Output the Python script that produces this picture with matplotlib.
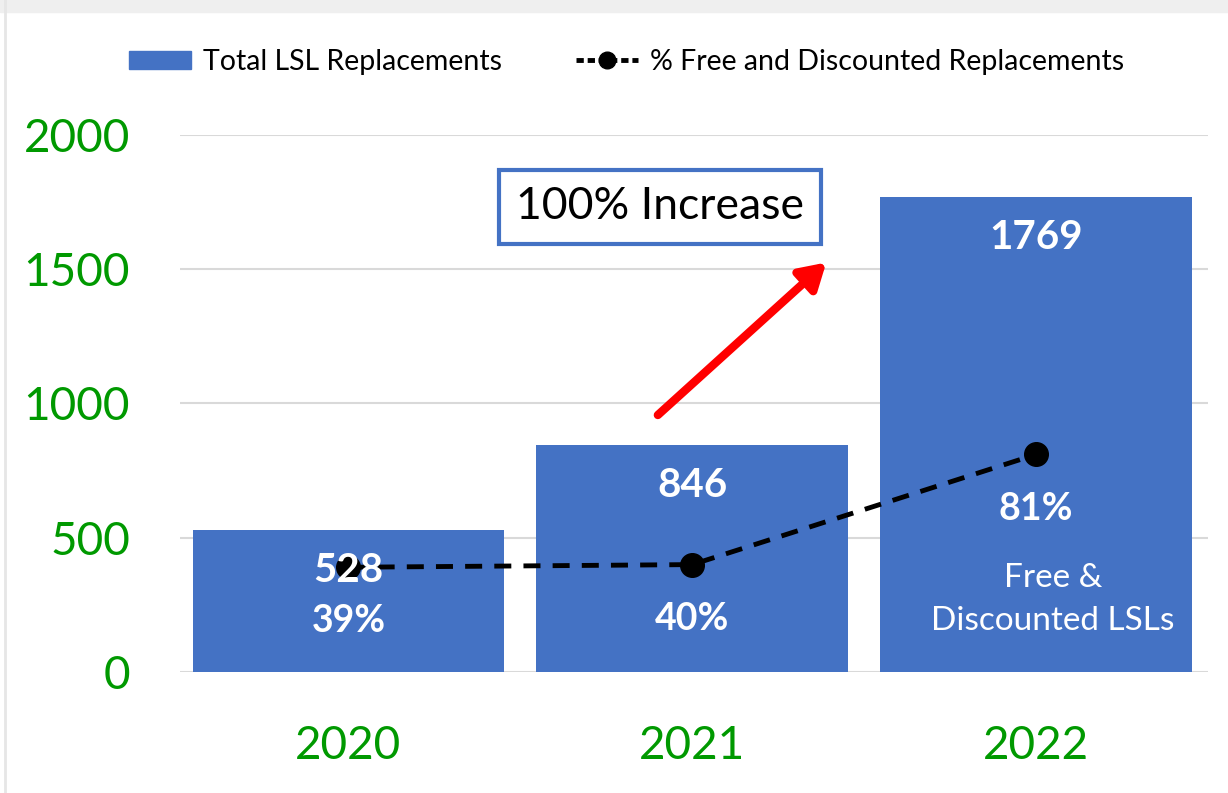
import matplotlib.pyplot as plt
from matplotlib.lines import Line2D
from matplotlib.patches import Rectangle

plt.rcParams['font.family'] = ['Lato', 'DejaVu Sans']

years = ['2020', '2021', '2022']
total_lsl = [528, 846, 1769]
pct_free = [39, 40, 81]
y_ticks = [0, 500, 1000, 1500, 2000]

blue = '#4472C4'
green = '#009900'

fig = plt.figure(figsize=(12.28, 7.93), dpi=100)
ax = fig.add_axes([0.1466, 0.1526, 0.837, 0.6772])

x = range(len(years))
ax.bar(x, total_lsl, width=0.907, color=blue, zorder=2)
ax.set_xlim(-0.49, 2.5)
ax.set_ylim(0, 2000)
ax.set_yticks(y_ticks)
ax.set_xticks(list(x))
ax.set_xticklabels(years)
ax.tick_params(axis='y', length=0, pad=36, labelsize=33, labelcolor=green)
ax.tick_params(axis='x', length=0, pad=38, labelsize=33, labelcolor=green)
ax.grid(axis='y', color='#D9D9D9', linewidth=1.5, zorder=0)
ax.set_axisbelow(True)
for s in ax.spines.values():
    s.set_visible(False)

# percentage line on hidden secondary axis
ax2 = ax.twinx()
ax2.set_ylim(0, 200)
ax2.axis('off')
ax2.plot(x, pct_free, color='black', linestyle=(0, (3.5, 2.5)), linewidth=3.5,
         marker='o', markersize=17, zorder=3)

# bar value labels (drawn on top of the line)
for xi, v in zip(x, total_lsl):
    ax2.annotate(str(v), (xi, v), xycoords=ax.transData, xytext=(0, -29),
                 textcoords='offset points', ha='center', va='center',
                 color='white', fontsize=29, fontweight='bold', zorder=6)

for xi, p in zip(x, pct_free):
    ax2.annotate(f'{p}%', (xi, p), xytext=(0, -39), textcoords='offset points',
                 ha='center', va='center', color='white', fontsize=27,
                 fontweight='bold', zorder=6)

ax2.text(2.05, 27, 'Free &\nDiscounted LSLs', ha='center', va='center',
         color='white', fontsize=24, linespacing=1.55)

# annotation box and arrow
ax.text(0.906, 1732, '100% Increase', ha='center', va='center', fontsize=32,
        color='black', zorder=7,
        bbox=dict(boxstyle='square,pad=0.38', facecolor='white',
                  edgecolor=blue, linewidth=3))
ax.annotate('', xy=(1.39, 1525), xytext=(0.90, 957),
            arrowprops=dict(arrowstyle='-|>,head_length=1.5,head_width=0.9',
                            color='#FF0000', lw=6, shrinkA=0, shrinkB=0),
            zorder=7)

# legend
handles = [Rectangle((0, 0), 1, 1, color=blue),
           Line2D([], [], color='black', linestyle=(0, (1.5, 0.8)), linewidth=3.5,
                  marker='o', markersize=12)]
fig.legend(handles, ['Total LSL Replacements', '% Free and Discounted Replacements'],
           loc='center', bbox_to_anchor=(0.51, 0.922), ncol=2, frameon=False,
           fontsize=20.5, handlelength=2.2, handleheight=0.6, columnspacing=2.6,
           handletextpad=0.4)

# sheet frame decoration
fig.patches.append(Rectangle((0, 0.985), 1, 0.015, transform=fig.transFigure,
                             color='#EFEFEF', zorder=0))
fig.lines.append(Line2D([0.004, 0.004], [0, 1], transform=fig.transFigure,
                        color='#E6E6E6', linewidth=2))

fig.savefig('out.png', dpi=100)
